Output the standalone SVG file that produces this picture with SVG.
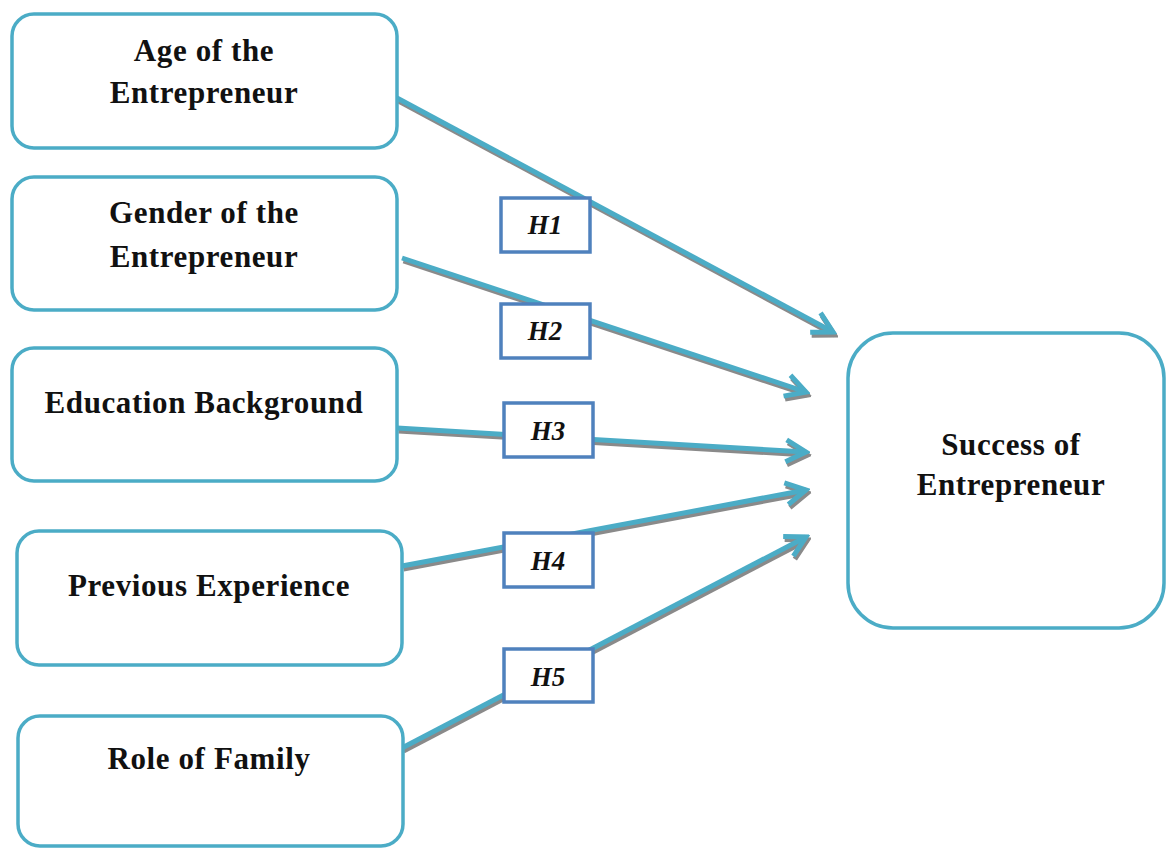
<svg xmlns="http://www.w3.org/2000/svg" width="1166" height="848" viewBox="0 0 1166 848">
<style>
.node{fill:#fff;stroke:#4bacc6;stroke-width:3.5}
.t{font-family:"Liberation Serif","Times New Roman",serif;font-weight:bold;font-size:31px;letter-spacing:0.6px;fill:#111;text-anchor:middle}
.h{fill:#fff;stroke:#4f81bd;stroke-width:3.5}
.ht{font-family:"Liberation Serif","Times New Roman",serif;font-weight:bold;font-style:italic;font-size:27px;fill:#111;text-anchor:middle}
.ln{fill:none;stroke:#4bacc6;stroke-width:5}
.sh{fill:none;stroke:#8a8a8a;stroke-width:5}
</style>
<defs>
<marker id="ah" markerUnits="userSpaceOnUse" viewBox="0 0 30 30" refX="26" refY="15" markerWidth="30" markerHeight="30" orient="auto">
<path d="M6,4 L26,15 L6,26" fill="none" stroke="#4bacc6" stroke-width="5" stroke-linejoin="miter"/>
</marker>
<marker id="ahs" markerUnits="userSpaceOnUse" viewBox="0 0 30 30" refX="26" refY="15" markerWidth="30" markerHeight="30" orient="auto">
<path d="M6,4 L26,15 L6,26" fill="none" stroke="#8a8a8a" stroke-width="5" stroke-linejoin="miter"/>
</marker>
</defs>
<rect width="1166" height="848" fill="#fff"/>
<g id="connectors">
<g transform="translate(1.5,3)">
<line class="sh" x1="397" y1="98" x2="833" y2="332" marker-end="url(#ahs)"/>
<line class="sh" x1="402" y1="258" x2="806" y2="392" marker-end="url(#ahs)"/>
<line class="sh" x1="397" y1="428" x2="806" y2="452" marker-end="url(#ahs)"/>
<line class="sh" x1="402" y1="566" x2="806" y2="490" marker-end="url(#ahs)"/>
<line class="sh" x1="402" y1="748" x2="806" y2="537" marker-end="url(#ahs)"/>
</g>
<line class="ln" x1="397" y1="98" x2="833" y2="332" marker-end="url(#ah)"/>
<line class="ln" x1="402" y1="258" x2="806" y2="392" marker-end="url(#ah)"/>
<line class="ln" x1="397" y1="428" x2="806" y2="452" marker-end="url(#ah)"/>
<line class="ln" x1="402" y1="566" x2="806" y2="490" marker-end="url(#ah)"/>
<line class="ln" x1="402" y1="748" x2="806" y2="537" marker-end="url(#ah)"/>
</g>
<g id="age">
<rect class="node" x="12" y="14" width="385" height="134" rx="22"/>
<text class="t" x="204" y="61">Age of the</text>
<text class="t" x="204" y="103">Entrepreneur</text>
</g>
<g id="gender">
<rect class="node" x="12" y="177" width="385" height="133" rx="22"/>
<text class="t" x="204" y="223">Gender of the</text>
<text class="t" x="204" y="267">Entrepreneur</text>
</g>
<g id="education">
<rect class="node" x="12" y="348" width="385" height="133" rx="22"/>
<text class="t" x="204" y="413">Education Background</text>
</g>
<g id="experience">
<rect class="node" x="17" y="531" width="385" height="134" rx="22"/>
<text class="t" x="209" y="596">Previous Experience</text>
</g>
<g id="family">
<rect class="node" x="18" y="716" width="385" height="130" rx="22"/>
<text class="t" x="209" y="769">Role of Family</text>
</g>
<g id="success">
<rect class="node" x="848" y="333" width="316" height="295" rx="45"/>
<text class="t" x="1011" y="455">Success of</text>
<text class="t" x="1011" y="495">Entrepreneur</text>
</g>
<g id="h1"><rect class="h" x="501" y="198" width="89" height="54"/><text class="ht" x="545" y="234">H1</text></g>
<g id="h2"><rect class="h" x="501" y="304" width="89" height="54"/><text class="ht" x="545" y="340">H2</text></g>
<g id="h3"><rect class="h" x="504" y="403" width="89" height="54"/><text class="ht" x="548" y="440">H3</text></g>
<g id="h4"><rect class="h" x="504" y="533" width="89" height="54"/><text class="ht" x="548" y="570">H4</text></g>
<g id="h5"><rect class="h" x="504" y="649" width="89" height="53"/><text class="ht" x="548" y="686">H5</text></g>
</svg>
